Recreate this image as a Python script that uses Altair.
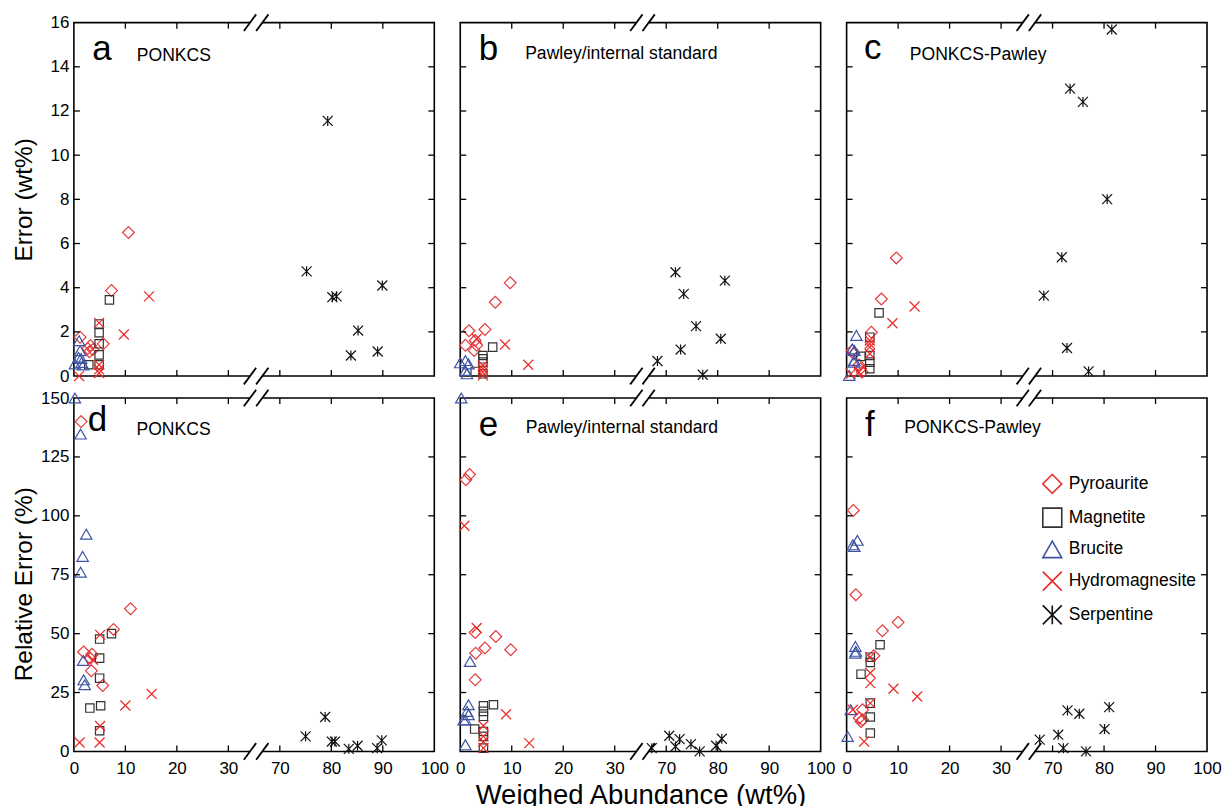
import altair as alt
import pandas as pd

FONT = "Liberation Sans"

MINERALS = ["Pyroaurite", "Magnetite", "Brucite", "Hydromagnesite", "Serpentine"]
COLORS = ["#e5383b", "#333333", "#3e54a3", "#ea2a26", "#111111"]
SHAPES = ["diamond", "square", "triangle-up",
          "M-1,-1L1,1M-1,1L1,-1",
          "M-1,-1L1,1M-1,1L1,-1M0,-1L0,1"]
SIZES = [140, 70, 130, 100, 100]

# ---- panel a : Error (wt%), PONKCS
A_PYRO = [(10.6, 6.5), (7.3, 3.87), (1.2, 1.76), (2.7, 1.25), (3.2, 1.38), (3.7, 1.2), (3.0, 1.1), (5.7, 1.46)]
A_MAGN = [(6.9, 3.45), (4.9, 2.36), (4.9, 1.96), (4.9, 1.46), (4.9, 0.96), (2.9, 0.51), (4.9, 0.51)]
A_BRUC = [(1.0, 1.6), (1.2, 1.15), (0.9, 0.85), (0.2, 0.55), (1.5, 0.62), (1.8, 0.5), (1.4, 0.8)]
A_HYDR = [(14.6, 3.61), (9.7, 1.88), (4.9, 2.41), (4.9, 0.51), (4.9, 0.3), (4.9, 0.14), (1.0, 0.0)]
A_SERP = [(79.3, 11.55), (75.2, 4.74), (80.2, 3.57), (81.0, 3.61), (89.9, 4.10), (85.2, 2.06), (83.8, 0.93), (89.0, 1.11)]

# ---- panel b : Error (wt%), Pawley/internal standard
B_PYRO = [(9.7, 4.22), (6.8, 3.34), (1.7, 2.05), (4.8, 2.11), (1.0, 1.39), (2.9, 1.61), (3.2, 1.39), (2.7, 1.16)]
B_MAGN = [(6.3, 1.31), (4.4, 0.93), (4.4, 0.78), (4.4, 0.63), (2.9, 0.21), (4.4, 0.1)]
B_BRUC = [(0.0, 0.6), (1.0, 0.7), (1.3, 0.1), (1.0, 0.25), (1.6, 0.55)]
B_HYDR = [(8.7, 1.43), (13.2, 0.51), (3.2, 1.69), (4.4, 0.48), (4.4, 0.33), (4.4, 0.18), (4.4, 0.03)]
B_SERP = [(71.8, 4.70), (73.4, 3.72), (81.4, 4.32), (75.8, 2.26), (80.6, 1.69), (72.8, 1.20), (68.3, 0.68), (77.1, 0.06)]

# ---- panel c : Error (wt%), PONKCS-Pawley
C_PYRO = [(9.65, 5.35), (6.76, 3.49), (4.8, 1.98), (1.1, 1.16), (1.4, 1.0), (2.7, 0.33), (3.0, 0.18), (2.4, 0.5)]
C_MAGN = [(6.3, 2.86), (4.5, 1.76), (4.5, 0.93), (4.5, 0.63), (4.5, 0.33), (2.76, 0.89)]
C_BRUC = [(1.9, 1.84), (1.5, 1.16), (1.5, 0.71), (0.5, 0.03), (1.1, 1.23), (1.4, 0.63)]
C_HYDR = [(13.2, 3.15), (8.9, 2.39), (4.5, 1.61), (4.5, 1.46), (4.5, 1.31), (4.5, 1.01), (0.8, 0.1), (2.4, 0.18)]
C_SERP = [(81.5, 15.69), (73.4, 13.01), (75.9, 12.41), (80.6, 8.01), (71.8, 5.38), (68.3, 3.64), (72.8, 1.27), (77.0, 0.21)]

# ---- panel d : Relative Error (%), PONKCS
D_PYRO = [(1.4, 140), (11.0, 60.6), (7.7, 51.8), (1.9, 42.2), (3.5, 41.3), (3.4, 34.2), (5.6, 28.0), (3.2, 39.5)]
D_MAGN = [(7.3, 50.0), (5.0, 47.7), (5.0, 39.6), (5.0, 31.1), (3.1, 18.4), (5.2, 19.4), (5.0, 8.8)]
D_BRUC = [(0.2, 150), (1.3, 134.7), (2.4, 92.2), (1.7, 82.8), (1.3, 76.1), (1.8, 38.6), (1.9, 30.4), (2.1, 28.3)]
D_HYDR = [(5.1, 49.5), (3.7, 38.9), (15.1, 24.4), (10.0, 19.5), (5.1, 10.8), (5.0, 3.8), (1.1, 3.8)]
D_SERP = [(75.0, 6.4), (78.8, 14.6), (80.1, 4.2), (80.7, 4.2), (83.4, 1.1), (85.1, 2.4), (88.9, 1.4), (89.8, 4.7)]

# ---- panel e : Relative Error (%), Pawley/internal standard
E_PYRO = [(1.1, 115.3), (1.8, 117.5), (2.9, 50.5), (6.9, 48.8), (4.8, 43.9), (3.0, 41.7), (9.8, 43.2), (2.9, 30.4)]
E_MAGN = [(4.5, 19.4), (4.5, 17.0), (4.5, 14.9), (6.45, 19.8), (2.8, 9.5), (4.5, 8.5), (4.5, 6.4), (4.5, 1.4)]
E_BRUC = [(0.2, 150), (1.9, 38.2), (1.6, 19.8), (1.3, 17.0), (1.6, 15.6), (1.0, 13.4), (0.65, 13.4), (1.0, 2.8)]
E_HYDR = [(0.8, 95.8), (3.2, 52.4), (8.9, 15.8), (4.5, 10.9), (4.5, 6.4), (4.5, 4.2), (4.5, 1.4), (13.4, 3.5)]
E_SERP = [(67.2, 1.4), (70.6, 6.65), (72.6, 5.2), (71.8, 2.1), (74.8, 3.1), (76.5, 0.0), (79.7, 2.4), (80.8, 5.4)]

# ---- panel f : Relative Error (%), PONKCS-Pawley
F_PYRO = [(1.3, 102.3), (1.8, 66.5), (10.0, 54.8), (6.95, 51.2), (5.3, 40.6), (3.1, 17.7), (2.45, 14.2), (3.1, 13.4), (2.8, 12.7)]
F_MAGN = [(6.5, 45.3), (4.6, 40.0), (4.6, 37.8), (2.8, 32.8), (4.6, 20.5), (4.6, 14.6), (4.6, 7.8)]
F_BRUC = [(1.2, 87.7), (1.5, 87.0), (2.1, 89.6), (1.7, 44.6), (1.8, 42.5), (1.7, 41.7), (0.8, 17.7), (0.2, 6.4)]
F_HYDR = [(4.6, 40.0), (4.6, 33.3), (4.6, 29.0), (9.1, 26.6), (13.7, 23.3), (4.6, 20.5), (3.4, 4.2), (1.2, 17.7)]
F_SERP = [(67.5, 5.0), (71.1, 7.1), (72.1, 1.4), (72.9, 17.4), (75.2, 16.0), (76.5, 0.0), (80.1, 9.5), (81.0, 18.8)]

# axis definitions (broken x axis: 35..65 removed)
BREAK = 35
GAP = 30
X_MAX = 100
X_LABELS = [0, 10, 20, 30, 70, 80, 90, 100]
X_TICKS = [10, 20, 30, 70, 80, 90]
ERR_LABELS = [0, 2, 4, 6, 8, 10, 12, 14, 16]
ERR_TICKS = [2, 4, 6, 8, 10, 12, 14]
REL_LABELS = [0, 25, 50, 75, 100, 125, 150]
REL_TICKS = [25, 50, 75, 100, 125]
BREAK_MARK = 35.4

W, H = 361, 354
TICK = 6


def fold(v):
    return v if v <= BREAK else v - GAP


LABEL_EXPR = f"datum.value > {BREAK} ? datum.value + {GAP} : datum.value"
XSCALE = alt.Scale(domain=[0, fold(X_MAX)], nice=False, zero=False)
CSCALE = alt.Scale(domain=MINERALS, range=COLORS)
SSCALE = alt.Scale(domain=MINERALS, range=SHAPES)


def text_layer(txt, x, y, size):
    return alt.Chart(pd.DataFrame({"t": [txt]})).mark_text(
        align="left", baseline="alphabetic", font=FONT, fontSize=size, color="black"
    ).encode(x=alt.value(x), y=alt.value(y), text="t:N")


def panel(groups, letter, name, ymax, yticks, ylabels, letter_xy, name_xy,
          ytitle=None, ytitle_pad=0, ytitle_y=H / 2, xlabels=False, xtitle=None, legend=False):
    yscale = alt.Scale(domain=[0, ymax], nice=False)
    if xlabels:
        xaxis = alt.Axis(values=[fold(v) for v in X_LABELS], labelExpr=LABEL_EXPR,
                         ticks=False, tickSize=0, domain=False, grid=False,
                         labelFont=FONT, labelFontSize=17, labelColor="black",
                         labelPadding=9, labelFlush=False, labelOverlap=False,
                         title=xtitle, titleFont=FONT, titleFontSize=27.5,
                         titleFontWeight="normal", titleColor="black", titlePadding=5)
    else:
        xaxis = None
    if ytitle:
        yaxis = alt.Axis(values=ylabels, ticks=False, tickSize=0, domain=False, grid=False,
                         labelFont=FONT, labelFontSize=17, labelColor="black",
                         labelPadding=5, labelFlush=False, labelOverlap=False,
                         title=ytitle, titleFont=FONT, titleFontSize=24.5,
                         titleFontWeight="normal", titleColor="black",
                         titlePadding=ytitle_pad, titleY=ytitle_y)
    else:
        yaxis = None

    if legend:
        leg = alt.Legend(orient="none", legendX=195.5, legendY=75.5, title=None,
                         symbolSize=361, symbolStrokeWidth=1.6,
                         labelFont=FONT, labelFontSize=17.5, labelColor="black",
                         rowPadding=6.8, labelOffset=6, padding=0)
    else:
        leg = None

    X = alt.X("xf:Q", scale=XSCALE, axis=xaxis)
    Y = alt.Y("y:Q", scale=yscale, axis=yaxis)

    point_layers = []
    for mineral, size, pts in zip(MINERALS, SIZES, groups):
        df = pd.DataFrame({"mineral": [mineral] * len(pts),
                           "xf": [fold(p[0]) for p in pts],
                           "y": [p[1] for p in pts]})
        point_layers.append(
            alt.Chart(df).mark_point(filled=False, strokeWidth=1.2, opacity=1, size=size).encode(
                x=X, y=Y,
                color=alt.Color("mineral:N", scale=CSCALE, legend=leg),
                shape=alt.Shape("mineral:N", scale=SSCALE, legend=leg),
            )
        )

    xt = pd.DataFrame({"xf": [fold(v) for v in X_TICKS]})
    yt = pd.DataFrame({"y": yticks})
    rule = dict(color="black", strokeWidth=1.3)
    ticks = [
        alt.Chart(xt).mark_rule(**rule).encode(x=X, y=alt.value(H), y2=alt.value(H - TICK)),
        alt.Chart(xt).mark_rule(**rule).encode(x=X, y=alt.value(0), y2=alt.value(TICK)),
        alt.Chart(yt).mark_rule(**rule).encode(y=Y, x=alt.value(0), x2=alt.value(TICK)),
        alt.Chart(yt).mark_rule(**rule).encode(y=Y, x=alt.value(W), x2=alt.value(W - TICK)),
    ]

    br = pd.DataFrame({"xf": [BREAK_MARK]})
    breaks = []
    for y0 in (0, H):
        breaks.append(alt.Chart(br).mark_rect(color="white", xOffset=-6, x2Offset=6).encode(
            x=X, x2=alt.X2("xf"), y=alt.value(y0 - 2.5), y2=alt.value(y0 + 2.5)))
        breaks.append(alt.Chart(br).mark_rule(color="black", strokeWidth=1.8,
                                              xOffset=-12.3, x2Offset=0).encode(
            x=X, x2=alt.X2("xf"), y=alt.value(y0 + 8.3), y2=alt.value(y0 - 8.3)))
        breaks.append(alt.Chart(br).mark_rule(color="black", strokeWidth=1.8,
                                              xOffset=0, x2Offset=12.3).encode(
            x=X, x2=alt.X2("xf"), y=alt.value(y0 + 8.3), y2=alt.value(y0 - 8.3)))

    texts = [
        text_layer(letter, letter_xy[0], letter_xy[1], 35),
        text_layer(name, name_xy[0], name_xy[1], 17.6),
    ]
    return alt.layer(*point_layers, *ticks, *breaks, *texts).properties(width=W, height=H)


pa = panel([A_PYRO, A_MAGN, A_BRUC, A_HYDR, A_SERP], "a", "PONKCS", 16, ERR_TICKS, ERR_LABELS,
           (18.5, 37.5), (63, 38.3), ytitle="Error (wt%)", ytitle_pad=13.6)
pb = panel([B_PYRO, B_MAGN, B_BRUC, B_HYDR, B_SERP], "b", "Pawley/internal standard", 16, ERR_TICKS, ERR_LABELS,
           (18.5, 37.5), (65, 36.7))
pc = panel([C_PYRO, C_MAGN, C_BRUC, C_HYDR, C_SERP], "c", "PONKCS-Pawley", 16, ERR_TICKS, ERR_LABELS,
           (17.5, 36.5), (63.3, 37.3))
pd_ = panel([D_PYRO, D_MAGN, D_BRUC, D_HYDR, D_SERP], "d", "PONKCS", 150, REL_TICKS, REL_LABELS,
            (14, 33.5), (62.7, 36.7), ytitle="Relative Error (%)", ytitle_pad=4.1, ytitle_y=H / 2 + 9,
            xlabels=True)
pe = panel([E_PYRO, E_MAGN, E_BRUC, E_HYDR, E_SERP], "e", "Pawley/internal standard", 150, REL_TICKS, REL_LABELS,
           (18.5, 38), (65.6, 35), xlabels=True, xtitle="Weighed Abundance (wt%)")
pf = panel([F_PYRO, F_MAGN, F_BRUC, F_HYDR, F_SERP], "f", "PONKCS-Pawley", 150, REL_TICKS, REL_LABELS,
           (18.5, 38), (57.7, 35), xlabels=True, legend=True)

chart = alt.concat(
    pa, pb, pc, pd_, pe, pf, columns=3, spacing={"row": 22, "column": 26}, bounds="flush"
).resolve_legend(
    color="independent", shape="independent"
).configure(
    font=FONT
).configure_view(
    stroke="black", strokeWidth=1.6
).properties(
    padding={"left": 2, "top": 3, "right": 0, "bottom": 0}
)

chart.save("out.html", embed_options={"renderer": "svg", "actions": False})
